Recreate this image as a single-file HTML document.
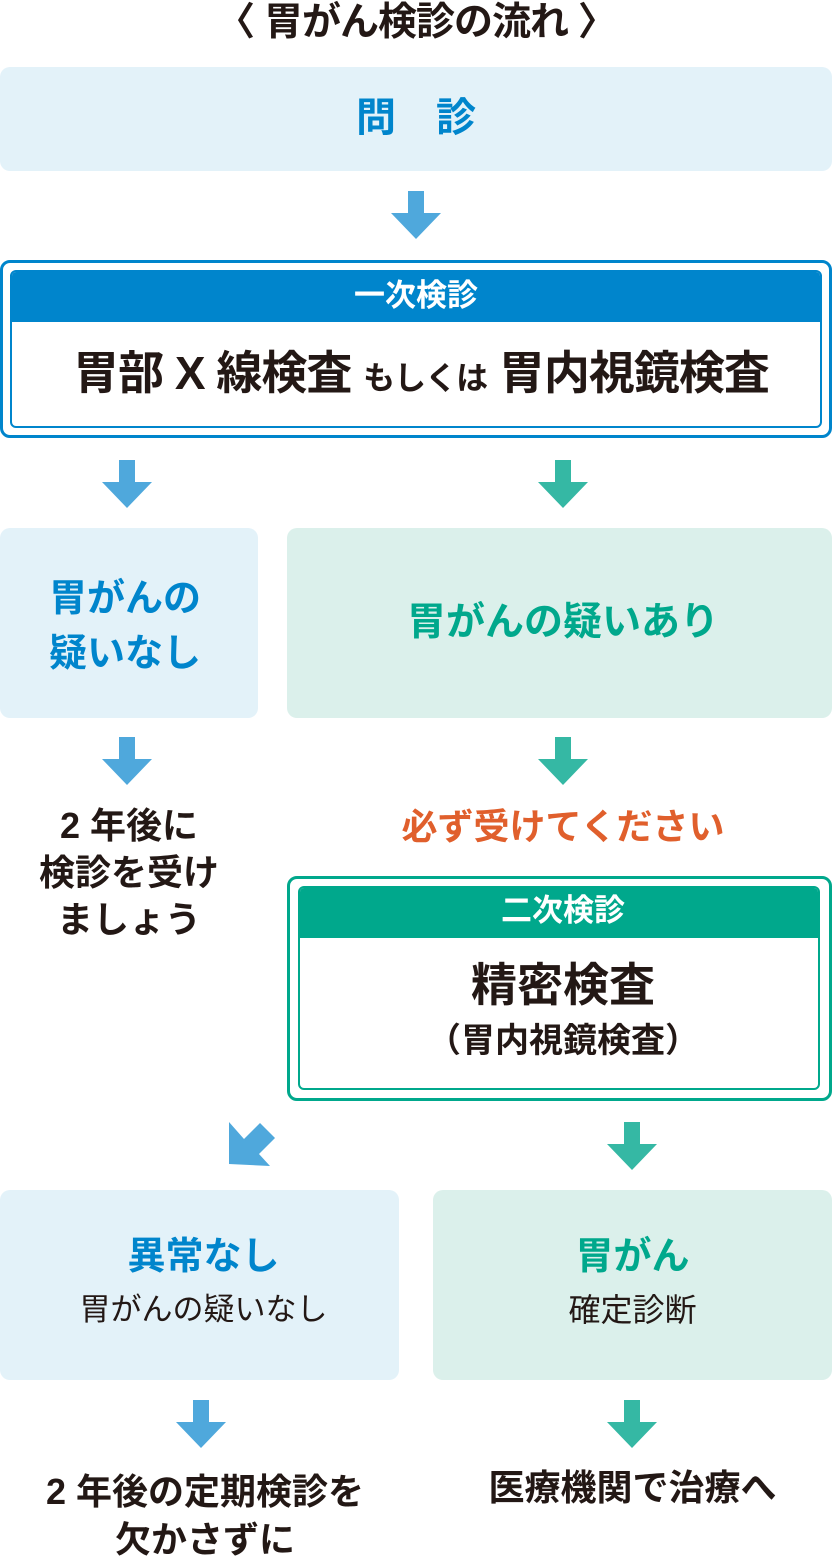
<!DOCTYPE html>
<html><head><meta charset="utf-8"><style>
body{margin:0;width:832px;height:1560px;position:relative;background:#fff;font-family:"Liberation Sans","Noto Sans CJK JP",sans-serif;font-weight:bold;color:#231815;overflow:hidden}
.a{position:absolute}
.t{position:absolute;text-align:center;white-space:nowrap;line-height:1}
.lb{background:#e3f2f9;border-radius:10px}
.lg{background:#dbf0eb;border-radius:10px}
svg.ar{position:absolute;width:50px;height:48px}
</style></head><body>
<div class="t" style="left:0;width:832px;top:3px;font-size:39px;letter-spacing:-1px">〈 胃がん検診の流れ 〉</div>
<div class="a lb" style="left:0;top:67px;width:832px;height:104px"></div>
<div class="t" style="left:0;width:832px;top:98px;font-size:40px;color:#0085cc">問　診</div>
<svg class="ar" style="left:391px;top:191px" viewBox="0 0 50 48"><polygon points="17,0 33,0 33,22 50,22 25,48 0,22 17,22" fill="#4fa8dc"/></svg>

<div class="a" style="left:0;top:260px;width:826px;height:172px;border:3px solid #0085cc;border-radius:10px"></div>
<div class="a" style="left:10px;top:270px;width:808px;height:154px;border:2px solid #0085cc;border-radius:6px;overflow:hidden">
<div style="background:#0085cc;height:50px"></div></div>
<div class="t" style="left:0;width:832px;top:280px;font-size:31px;color:#fff">一次検診</div>
<div class="t" style="left:5px;width:832px;top:350px;font-size:46px;letter-spacing:-1px">胃部 X 線検査 <span style="font-size:32px">もしくは</span> 胃内視鏡検査</div>

<svg class="ar" style="left:102px;top:460px" viewBox="0 0 50 48"><polygon points="17,0 33,0 33,22 50,22 25,48 0,22 17,22" fill="#4fa8dc"/></svg>
<svg class="ar" style="left:538px;top:460px" viewBox="0 0 50 48"><polygon points="17,0 33,0 33,22 50,22 25,48 0,22 17,22" fill="#35b8a4"/></svg>

<div class="a lb" style="left:0;top:528px;width:258px;height:190px"></div>
<div class="t" style="left:0;width:250px;top:572px;font-size:38px;line-height:55px;color:#0085cc">胃がんの<br>疑いなし</div>
<div class="a lg" style="left:287px;top:528px;width:545px;height:190px"></div>
<div class="t" style="left:287px;width:552px;top:603px;font-size:39px;color:#00a88c">胃がんの疑いあり</div>

<svg class="ar" style="left:102px;top:737px" viewBox="0 0 50 48"><polygon points="17,0 33,0 33,22 50,22 25,48 0,22 17,22" fill="#4fa8dc"/></svg>
<svg class="ar" style="left:538px;top:737px" viewBox="0 0 50 48"><polygon points="17,0 33,0 33,22 50,22 25,48 0,22 17,22" fill="#35b8a4"/></svg>

<div class="t" style="left:0;width:258px;top:802px;font-size:36px;line-height:47px">2 年後に<br>検診を受け<br>ましょう</div>
<div class="t" style="left:287px;width:552px;top:809px;font-size:36px;color:#e05f2c">必ず受けてください</div>

<div class="a" style="left:287px;top:876px;width:539px;height:219px;border:3px solid #00a88c;border-radius:10px"></div>
<div class="a" style="left:298px;top:886px;width:518px;height:200px;border:2px solid #00a88c;border-radius:6px;overflow:hidden">
<div style="background:#00a88c;height:50px"></div></div>
<div class="t" style="left:287px;width:552px;top:895px;font-size:31px;color:#fff">二次検診</div>
<div class="t" style="left:287px;width:552px;top:962px;font-size:46px">精密検査</div>
<div class="t" style="left:287px;width:552px;top:1024px;font-size:34px">（胃内視鏡検査）</div>

<svg class="a" style="left:226px;top:1120px;width:50px;height:50px" viewBox="0 0 50 50"><polygon points="3,2 3,44 44,46 33,34 49,18 34,3 18,19" fill="#4fa8dc"/></svg>
<svg class="ar" style="left:607px;top:1122px" viewBox="0 0 50 48"><polygon points="17,0 33,0 33,22 50,22 25,48 0,22 17,22" fill="#35b8a4"/></svg>

<div class="a lb" style="left:0;top:1190px;width:399px;height:190px"></div>
<div class="t" style="left:0;width:407px;top:1238px;font-size:38px;color:#0085cc">異常なし</div>
<div class="t" style="left:0;width:407px;top:1294px;font-size:31px;font-weight:normal">胃がんの疑いなし</div>
<div class="a lg" style="left:433px;top:1190px;width:399px;height:190px"></div>
<div class="t" style="left:433px;width:399px;top:1238px;font-size:38px;color:#00a88c">胃がん</div>
<div class="t" style="left:433px;width:399px;top:1294px;font-size:32px;font-weight:normal">確定診断</div>

<svg class="ar" style="left:176px;top:1400px" viewBox="0 0 50 48"><polygon points="17,0 33,0 33,22 50,22 25,48 0,22 17,22" fill="#4fa8dc"/></svg>
<svg class="ar" style="left:607px;top:1400px" viewBox="0 0 50 48"><polygon points="17,0 33,0 33,22 50,22 25,48 0,22 17,22" fill="#35b8a4"/></svg>

<div class="t" style="left:0;width:410px;top:1468px;font-size:36px;line-height:48px">2 年後の定期検診を<br>欠かさずに</div>
<div class="t" style="left:433px;width:399px;top:1470px;font-size:36px">医療機関で治療へ</div>
</body></html>
